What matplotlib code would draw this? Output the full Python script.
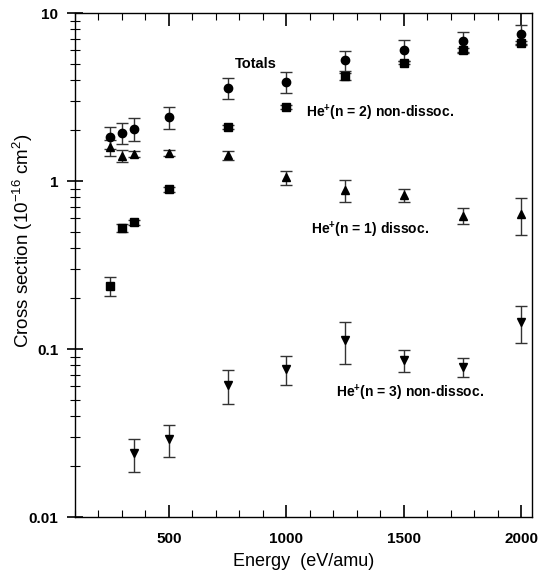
import numpy as np
import matplotlib.pyplot as plt
from matplotlib.ticker import LogLocator, FixedLocator, FixedFormatter, MultipleLocator

plt.rcParams['font.family'] = ['Liberation Sans', 'DejaVu Sans']
plt.rcParams['mathtext.fontset'] = 'custom'
plt.rcParams['mathtext.rm'] = 'Liberation Sans'
plt.rcParams['mathtext.bf'] = 'Liberation Sans:bold'

# Energies (eV/amu)
energy = [250, 300, 350, 500, 750, 1000, 1250, 1500, 1750, 2000]

# Totals
tot = [1.82, 1.93, 2.05, 2.39, 3.59, 3.90, 5.23, 6.02, 6.78, 7.53]
tot_err = [0.27, 0.28, 0.31, 0.35, 0.52, 0.56, 0.70, 0.85, 0.93, 0.97]

# He+(n = 2) non-dissoc.
n2 = [0.238, 0.525, 0.568, 0.896, 2.10, 2.77, 4.20, 5.06, 6.02, 6.65]
n2_err = [0.032, 0.03, 0.02, 0.03, 0.06, 0.08, 0.2, 0.12, 0.2, 0.2]

# He+(n = 1) dissoc.
n1 = [1.585, 1.41, 1.45, 1.46, 1.42, 1.05, 0.884, 0.822, 0.622, 0.635]
n1_err = [0.17, 0.11, 0.06, 0.06, 0.09, 0.10, 0.13, 0.07, 0.07, 0.16]

# He+(n = 3) non-dissoc.
e3 = [350, 500, 750, 1000, 1250, 1500, 1750, 2000]
n3 = [0.0239, 0.0291, 0.0611, 0.0764, 0.113, 0.086, 0.0785, 0.144]
n3_err = [0.0053, 0.0064, 0.014, 0.015, 0.031, 0.013, 0.010, 0.036]

fig = plt.figure(figsize=(5.39, 5.79), dpi=100)
ax = fig.add_axes([0.139, 0.107, 0.848, 0.8705])

ebar = dict(ls='none', color='black', ecolor='#333333', elinewidth=1.0,
            capsize=4, capthick=1.0, markersize=6)

ax.errorbar(energy, tot, yerr=tot_err, marker='o', **ebar)
ax.errorbar(energy, n2, yerr=n2_err, marker='s', **ebar)
ax.errorbar(energy, n1, yerr=n1_err, marker='^', **ebar)
ax.errorbar(e3, n3, yerr=n3_err, marker='v', **ebar)

ax.set_yscale('log')
ax.set_ylim(0.01, 10)
ax.set_xlim(100, 2045)

ax.xaxis.set_major_locator(FixedLocator([500, 1000, 1500, 2000]))
ax.xaxis.set_minor_locator(MultipleLocator(100))
ax.yaxis.set_major_locator(FixedLocator([0.01, 0.1, 1, 10]))
ax.yaxis.set_major_formatter(FixedFormatter(['0.01', '0.1', '1', '10']))
ax.yaxis.set_minor_locator(LogLocator(base=10, subs=np.arange(2, 10)))

ax.tick_params(axis='x', which='both', direction='in', top=True, bottom=True)
ax.tick_params(axis='x', which='major', length=9, width=1.2)
ax.tick_params(axis='x', which='minor', length=5, width=0.8)
ax.tick_params(axis='y', which='both', direction='inout', left=True, right=False)
ax.tick_params(axis='y', which='major', length=12, width=1.2)
ax.tick_params(axis='y', which='minor', length=7, width=0.8)
ax.tick_params(axis='x', labelsize=11, pad=11)
ax.tick_params(axis='y', labelsize=11, pad=6)
for lab in ax.get_xticklabels() + ax.get_yticklabels():
    lab.set_fontweight('bold')

for s in ax.spines.values():
    s.set_linewidth(1.0)

ax.set_xlabel('Energy  (eV/amu)', fontsize=13, labelpad=5)
ax.set_ylabel('Cross section (10$^{-16}$ cm$^{2}$)', fontsize=13.5)
ax.yaxis.set_label_coords(-0.088, 0.548)

ax.text(780, 5.0, 'Totals', fontsize=10.5, fontweight='bold',
        va='center', ha='left')
ax.text(1085, 2.55, 'He$^{\\mathbf{+}}$(n = 2) non-dissoc.', fontsize=10,
        fontweight='bold', va='center', ha='left')
ax.text(1105, 0.51, 'He$^{\\mathbf{+}}$(n = 1) dissoc.', fontsize=10,
        fontweight='bold', va='center', ha='left')
ax.text(1210, 0.055, 'He$^{\\mathbf{+}}$(n = 3) non-dissoc.', fontsize=10,
        fontweight='bold', va='center', ha='left')

fig.savefig('out.png', dpi=100)
